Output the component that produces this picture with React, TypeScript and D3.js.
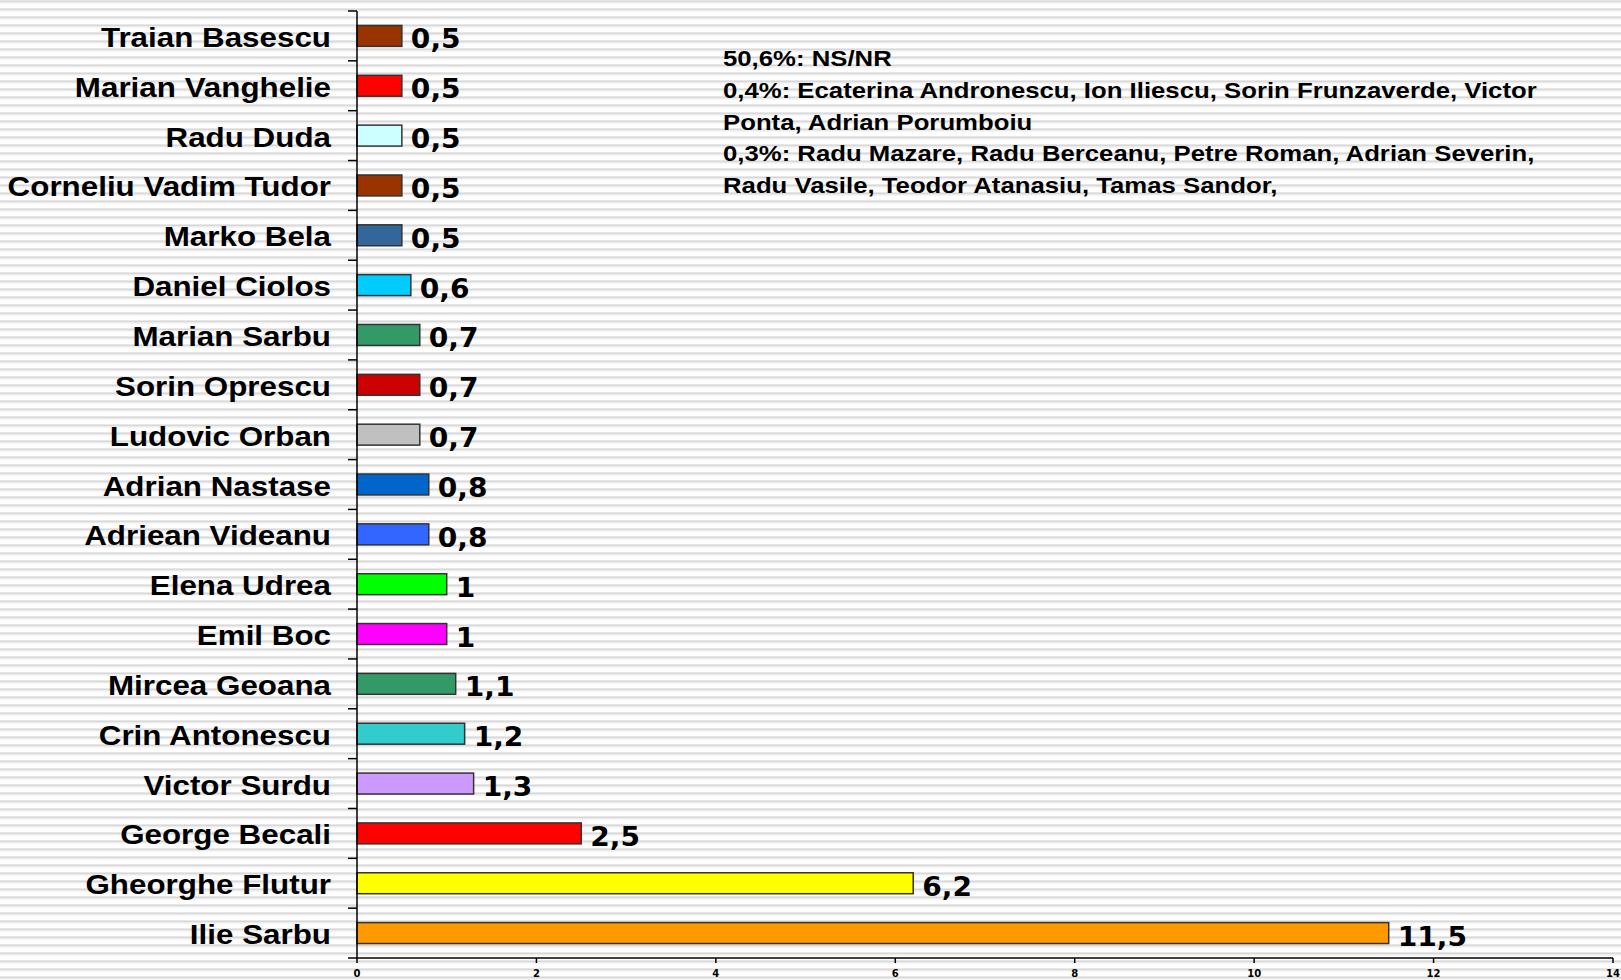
import React from "react";
import * as d3 from "d3";

const names = [
  "Traian Basescu", "Marian Vanghelie", "Radu Duda", "Corneliu Vadim Tudor", "Marko Bela",
  "Daniel Ciolos", "Marian Sarbu", "Sorin Oprescu", "Ludovic Orban", "Adrian Nastase",
  "Adriean Videanu", "Elena Udrea", "Emil Boc", "Mircea Geoana", "Crin Antonescu",
  "Victor Surdu", "George Becali", "Gheorghe Flutur", "Ilie Sarbu",
];
const values = [0.5, 0.5, 0.5, 0.5, 0.5, 0.6, 0.7, 0.7, 0.7, 0.8, 0.8, 1, 1, 1.1, 1.2, 1.3, 2.5, 6.2, 11.5];
const colors = [
  "#993300", "#ff0000", "#ccffff", "#993300", "#336699",
  "#00ccff", "#339966", "#cc0000", "#c0c0c0", "#0066cc",
  "#3366ff", "#00ff00", "#ff00ff", "#339966", "#33cccc",
  "#cc99ff", "#ff0000", "#ffff00", "#ff9900",
];
const xTicks = [0, 2, 4, 6, 8, 10, 12, 14];
const notes = [
  "50,6%: NS/NR",
  "0,4%: Ecaterina Andronescu, Ion Iliescu, Sorin Frunzaverde, Victor",
  "Ponta, Adrian Porumboiu",
  "0,3%: Radu Mazare, Radu Berceanu, Petre Roman, Adrian Severin,",
  "Radu Vasile, Teodor Atanasiu, Tamas Sandor,",
];

const W = 1621;
const H = 980;
const ARIAL = "'Liberation Sans', Arial, Helvetica, sans-serif";
const VERD = "'DejaVu Sans', Verdana, sans-serif";

export default function App() {
  const x = d3.scaleLinear().domain([0, 14]).range([357, 1613]);
  const y = d3.scaleBand<string>().domain(names).range([11, 958]).paddingInner(0.58).paddingOuter(0.29);
  const step = y.step();
  const bounds = d3.range(names.length + 1).map((i) => 11 + i * step);
  const fmt = (v: number) => String(v).replace(".", ",");

  return (
    <svg width={W} height={H} style={{ position: "absolute", left: 0, top: 0 }}>
      <defs>
        <pattern id="stripes" width={8} height={8} patternUnits="userSpaceOnUse">
          <rect x={0} y={0} width={8} height={8} fill="#ffffff" />
          <rect x={0} y={0} width={8} height={1} fill="#e8e8e8" />
          <rect x={0} y={1} width={8} height={1.5} fill="#d8d8d8" />
          <rect x={0} y={2.5} width={8} height={1} fill="#ececec" />
        </pattern>
      </defs>
      <rect x={0} y={0} width={W} height={H} fill="url(#stripes)" />

      {names.map((n, i) => {
        const yc = (y(n) as number) + y.bandwidth() / 2;
        return (
          <g key={n}>
            <rect
              x={x(0)}
              y={y(n)}
              width={x(values[i]) - x(0)}
              height={y.bandwidth()}
              fill={colors[i]}
              stroke="#333333"
              strokeWidth={1.5}
            />
            <g transform={`translate(331,${yc + 11}) scale(1.12,1)`}>
              <text
                x={0}
                y={0}
                textAnchor="end"
                style={{ fontFamily: ARIAL, fontWeight: 700, fontSize: "28px" }}
                fill="#000"
              >
                {n}
              </text>
            </g>
            <g transform={`translate(${x(values[i]) + 9},${yc + 12.5}) scale(1.08,1)`}>
              <text
                x={0}
                y={0}
                style={{ fontFamily: VERD, fontWeight: 700, fontSize: "26px" }}
                fill="#000"
              >
                {fmt(values[i])}
              </text>
            </g>
          </g>
        );
      })}

      {/* y axis */}
      <line x1={357} x2={357} y1={11} y2={958} stroke="#000" strokeWidth={1.5} />
      {bounds.map((b, i) => (
        <line key={i} x1={348} x2={357} y1={b} y2={b} stroke="#000" strokeWidth={1.5} />
      ))}

      {/* x axis */}
      <line x1={x(0)} x2={x(14)} y1={958} y2={958} stroke="#000" strokeWidth={1.5} />
      {xTicks.map((t) => (
        <g key={t}>
          <line x1={x(t)} x2={x(t)} y1={958} y2={963} stroke="#000" strokeWidth={1.5} />
          <text
            x={x(t)}
            y={977}
            textAnchor="middle"
            style={{ fontFamily: VERD, fontWeight: 700, fontSize: "10px" }}
            fill="#000"
          >
            {t}
          </text>
        </g>
      ))}

      <g transform="translate(723,0) scale(1.17,1)">
        {notes.map((t, i) => (
          <text
            key={i}
            x={0}
            y={66 + i * 31.8}
            style={{ fontFamily: ARIAL, fontWeight: 700, fontSize: "22px" }}
            fill="#000"
          >
            {t}
          </text>
        ))}
      </g>
    </svg>
  );
}
